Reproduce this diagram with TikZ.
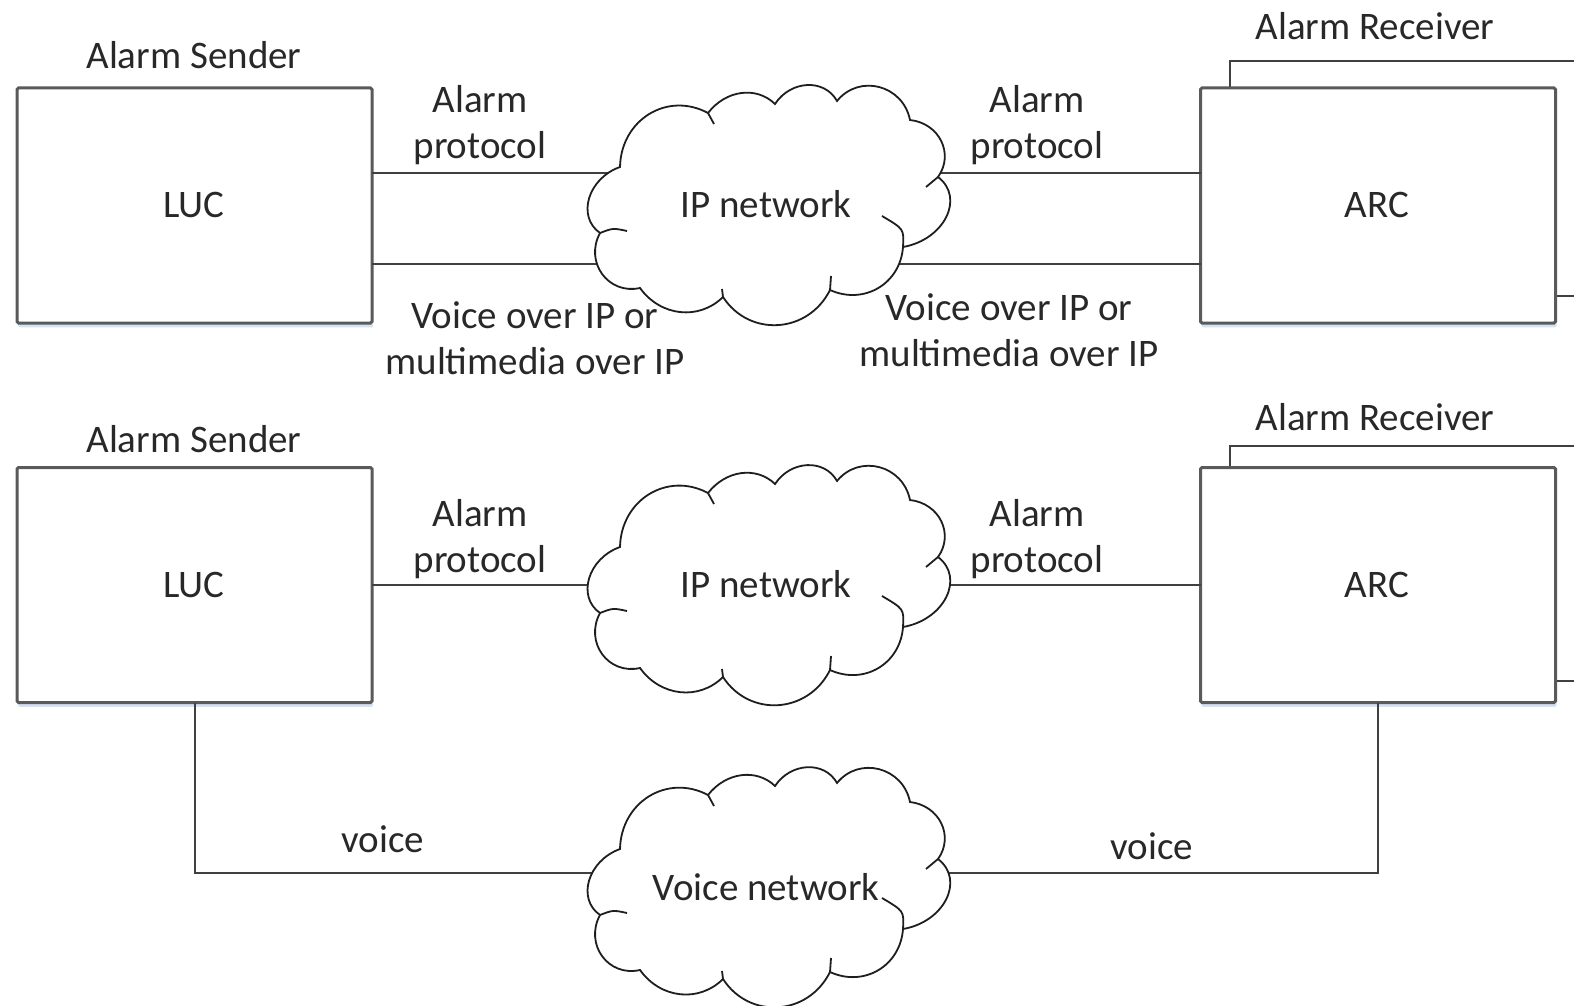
\documentclass[tikz,border=0pt]{standalone}
\usepackage{fontspec}
\setmainfont{Carlito}
\usetikzlibrary{calc,shadows}
\definecolor{boxline}{RGB}{90,90,90}
\definecolor{connline}{RGB}{64,64,64}
\definecolor{cloudcol}{RGB}{30,30,30}
\definecolor{txt}{RGB}{40,40,40}
\definecolor{shadowblue}{RGB}{212,226,244}
% arc-like bump from #1 to #2 through peak #3; #4 = weight of near end, #5 = weight of far end (#5 = #4 + 1/3)
\def\bump#1#2#3#4#5{.. controls ($#4*(#1)-#5*(#2)+1.33333*(#3)$) and ($#4*(#2)-#5*(#1)+1.33333*(#3)$) .. (#2)}
\newcommand{\netcloud}[3]{%
  \begin{scope}[shift={(#1,#2)}]
    \coordinate (#3n1) at (-148,-37);
    \coordinate (#3n2) at (-60,-91);
    \coordinate (#3n3) at (7,-100);
    \coordinate (#3n4) at (69,-103);
    \coordinate (#3n5) at (142,-84);
    \coordinate (#3n6) at (170,-27);
    \coordinate (#3n7) at (135,43);
    \coordinate (#3n8) at (62,86);
    \coordinate (#3n9) at (-45,93);
    \coordinate (#3n10) at (-128,84);
    \coordinate (#3n11) at (-168,29);
    \coordinate (#3p1) at (-119,-90);
    \coordinate (#3p2) at (-27,-111);
    \coordinate (#3p3) at (39,-119);
    \coordinate (#3p4) at (111,-117);
    \coordinate (#3p5) at (173,-63);
    \coordinate (#3p6) at (178,13);
    \coordinate (#3p7) at (110,84);
    \coordinate (#3p8) at (10,121);
    \coordinate (#3p9) at (-88,108);
    \coordinate (#3p10) at (-166,70);
    \coordinate (#3p11) at (-179,-6);
    \coordinate (#3t2) at (-54,-80);
    \coordinate (#3t6) at (158,-17);
    \coordinate (#3t7c) at (136,25);
    \coordinate (#3t7) at (114,12);
    \coordinate (#3t8) at (63,72);
    \coordinate (#3t9) at (-46,85);
    \coordinate (#3t11c) at (-155,24);
    \coordinate (#3t11) at (-141,27);
  \end{scope}
  \filldraw[cloudline] (#3n1) \bump{#3n1}{#3n2}{#3p1}{0.097}{0.430}
    \bump{#3n2}{#3n3}{#3p2}{0.061}{0.394} \bump{#3n3}{#3n4}{#3p3}{0.106}{0.439}
    \bump{#3n4}{#3n5}{#3p4}{0.133}{0.466} \bump{#3n5}{#3n6}{#3p5}{0.103}{0.436}
    \bump{#3n6}{#3n7}{#3p6}{0.133}{0.466} \bump{#3n7}{#3n8}{#3p7}{0.083}{0.416}
    \bump{#3n8}{#3n9}{#3p8}{0.108}{0.441} \bump{#3n9}{#3n10}{#3p9}{0.065}{0.398}
    \bump{#3n10}{#3n11}{#3p10}{0.133}{0.466} \bump{#3n11}{#3n1}{#3p11}{0.123}{0.456} -- cycle;
  \draw[cloudline] (#3n2) -- (#3t2) (#3n6) -- (#3t6)
    (#3n7) .. controls (#3t7c) .. (#3t7) (#3n8) -- (#3t8) (#3n9) -- (#3t9)
    (#3n11) .. controls (#3t11c) .. (#3t11);
}
\begin{document}
\begin{tikzpicture}[x=0.5pt,y=-0.5pt,
  every node/.style={font=\fontsize{19.5pt}{23pt}\selectfont, text=txt},
  box/.style={draw=boxline, line width=1.5pt, fill=white, minimum width=177.5pt,
    minimum height=117.5pt, inner sep=0pt, outer sep=0pt, rounded corners=0.8pt,
    general shadow={fill=shadowblue, shadow xshift=0.6pt, shadow yshift=-2.2pt}},
  backbox/.style={draw=connline, line width=1pt, fill=white, minimum width=177.5pt,
    minimum height=117.5pt, inner sep=0pt, outer sep=0pt},
  conn/.style={draw=connline, line width=1pt},
  cloudline/.style={draw=cloudcol, line width=0.9pt, fill=white},
  lbl/.style={inner sep=0pt, align=center, anchor=base}]
\path[use as bounding box] (0,0) rectangle (1574,1006);
\clip (0,0) rectangle (1574,1006);

% back boxes of the stacked receivers
\node[backbox] (arc1b) at (1407,178.5) {};
\node[backbox] (arc2b) at (1407,563) {};

% main boxes
\node[box] (luc1) at (194.5,205.5) {};
\node[box] (arc1) at (1378,205.5) {};
\node[box] (luc2) at (194.5,585) {};
\node[box] (arc2) at (1378,585) {};

% connectors
\coordinate (y1) at (0,173);
\coordinate (y2) at (0,264);
\coordinate (vjoin) at (768,873);
\draw[conn] (luc1.east |- y1) -- (arc1.west |- y1);
\draw[conn] (luc1.east |- y2) -- (arc1.west |- y2);
\draw[conn] (luc2.east) -- (arc2.west);
\draw[conn] (luc2.south) |- (vjoin) -| (arc2.south);

% clouds
\netcloud{768}{204}{ca}
\netcloud{768}{584}{cb}
\netcloud{768}{886}{cc}

% texts
\node[lbl] (tluc1) at (194,217) {LUC};
\node[lbl] (tarc1) at (1377,217) {ARC};
\node[lbl] (tip1) at (766,217) {IP network};
\node[lbl] (snd1) at (194,69) {Alarm Sender};
\node[lbl] (rcv1) at (1375,40) {Alarm Receiver};
\node[lbl] (ap1l) at (480,158) {Alarm\\protocol};
\node[lbl] (ap1r) at (1037,158) {Alarm\\protocol};
\node[lbl] (vo1l) at (535,374) {Voice over IP or\\multimedia over IP};
\node[lbl] (vo1r) at (1009,366) {Voice over IP or\\multimedia over IP};

\node[lbl] (tluc2) at (194,597) {LUC};
\node[lbl] (tarc2) at (1377,597) {ARC};
\node[lbl] (tip2) at (766,597) {IP network};
\node[lbl] (snd2) at (194,452) {Alarm Sender};
\node[lbl] (rcv2) at (1375,430) {Alarm Receiver};
\node[lbl] (ap2l) at (480,572) {Alarm\\protocol};
\node[lbl] (ap2r) at (1037,572) {Alarm\\protocol};
\node[lbl] (vc1) at (383,852) {voice};
\node[lbl] (vc2) at (1152,859) {voice};
\node[lbl] (tvn) at (766,900) {Voice network};
\end{tikzpicture}
\end{document}
